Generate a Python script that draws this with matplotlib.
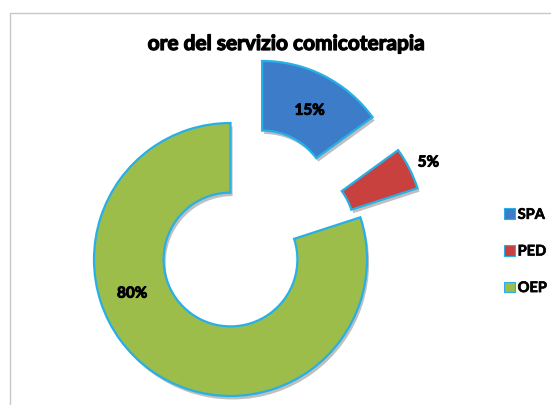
import matplotlib
matplotlib.use("Agg")
import matplotlib.pyplot as plt
from matplotlib.patches import Rectangle
import matplotlib.patheffects as pe

# Data
categories = ["SPA", "PED", "OEP"]
values = [15, 5, 80]
pct_labels = ["15%", "5%", "80%"]
title = "ore del servizio comicoterapia"

colors = ["#3d7cc9", "#c9413e", "#9cbd4a"]
edge = "#27b0e6"
explode = [0.51, 0.47, 0.0]

W, H = 551, 405
fig = plt.figure(figsize=(W / 100, H / 100), dpi=100)
fig.patch.set_facecolor("white")

# outer chart frame (cropped at right/bottom)
fig.add_artist(Rectangle((10 / W, -0.1), 1.2, (H - 13) / H + 0.1,
                         transform=fig.transFigure, fill=False,
                         edgecolor="#c8c8c8", linewidth=1.0))

ax = fig.add_axes([0, 0, 1, 1])
wedges, _ = ax.pie(values, colors=colors, startangle=90, counterclock=False,
                   explode=explode, radius=1.0,
                   wedgeprops=dict(width=0.51, edgecolor=edge, linewidth=1.6))
cx, cy, R = 230.5, 259.5, 136.5
ax.set_aspect("auto")
ax.set_xlim(-cx / R, (W - cx) / R)
ax.set_ylim(-(H - cy) / R, cy / R)
ax.axis("off")

for w in wedges:
    w.set_path_effects([pe.SimplePatchShadow(offset=(1.5, -2.5), alpha=0.25,
                                             shadow_rgbFace="black"),
                        pe.Normal()])

heavy = [pe.withStroke(linewidth=0.7, foreground="black")]

# percentage labels (positions in data coords)
label_pos = [(0.58, 1.09), (1.45, 0.71), (-0.72, -0.25)]
for (x, y), t in zip(label_pos, pct_labels):
    ax.text(x, y, t, ha="center", va="center", fontsize=11,
            fontweight="bold", family="Lato", color="black",
            path_effects=heavy)

# title
fig.text(287 / W, 1 - 44 / H, title, ha="center", va="center",
         fontsize=15, fontweight="bold", family="Lato", color="black",
         path_effects=[pe.withStroke(linewidth=0.9, foreground="black")])

# legend
leg = ax.legend(wedges, categories, loc="upper left",
                bbox_to_anchor=(498 / W, 1 - 202 / H),
                bbox_transform=fig.transFigure, frameon=False,
                handlelength=0.75, handleheight=0.75, handletextpad=0.2,
                labelspacing=1.55, borderaxespad=0,
                prop=dict(family="Lato", weight="bold", size=10.5))
for h in leg.legend_handles:
    h.set_linewidth(0.8)
    h.set_path_effects([])
for t in leg.get_texts():
    t.set_path_effects([pe.withStroke(linewidth=0.5, foreground="black")])

fig.savefig("out.png", dpi=100, facecolor="white")
